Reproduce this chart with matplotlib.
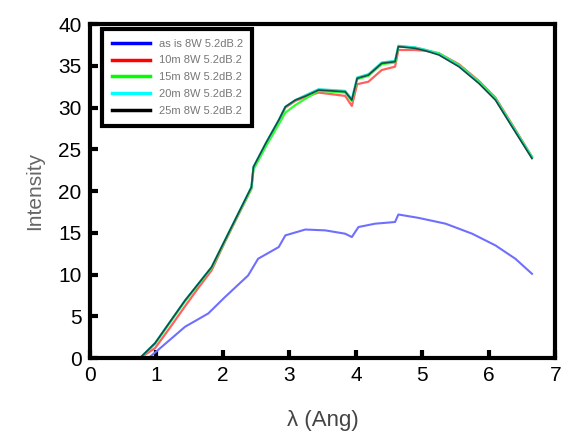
import matplotlib.pyplot as plt

plt.rcParams['font.family'] = ['Liberation Sans', 'DejaVu Sans']

# wavelength (Angstrom) and intensity
x_main = [0.45, 0.75, 0.98, 1.20, 1.43, 1.63, 1.83, 2.03, 2.23, 2.43, 2.46, 2.65, 2.84, 2.94,
          3.09, 3.25, 3.44, 3.64, 3.84, 3.94, 4.02, 4.19, 4.39, 4.59, 4.64, 4.89, 5.05,
          5.25, 5.55, 5.85, 6.10, 6.35, 6.65]
y_black = [0.0, 0.0, 1.8, 4.3, 6.9, 8.9, 10.9, 14.1, 17.3, 20.5, 22.9, 25.8, 28.5, 30.1,
           30.9, 31.4, 32.1, 32.0, 31.9, 30.9, 33.5, 33.9, 35.3, 35.5, 37.3, 37.1, 36.8,
           36.3, 34.9, 32.9, 30.9, 27.7, 23.9]
y_cyan = [0.0, 0.0, 1.8, 4.3, 6.9, 8.9, 10.9, 14.1, 17.3, 20.5, 22.9, 25.8, 28.5, 30.1,
          30.9, 31.5, 32.2, 32.1, 32.0, 31.0, 33.6, 34.0, 35.4, 35.6, 37.4, 37.2, 36.9,
          36.4, 35.0, 33.0, 31.0, 27.8, 24.0]
y_green = [0.0, 0.0, 1.7, 4.2, 6.8, 8.8, 10.8, 14.0, 17.2, 20.3, 22.6, 25.4, 28.0, 29.4,
           30.3, 31.1, 32.0, 31.9, 31.8, 30.8, 33.4, 33.8, 35.2, 35.4, 37.3, 37.2, 36.9,
           36.5, 35.1, 33.1, 31.1, 27.9, 24.1]
y_red = [0.0, 0.0, 1.2, 3.6, 6.2, 8.4, 10.5, 13.9, 17.1, 20.3, 22.7, 25.6, 28.3, 30.0,
         30.8, 31.3, 31.8, 31.6, 31.4, 30.2, 32.8, 33.1, 34.5, 34.9, 36.9, 36.9, 36.8,
         36.5, 35.2, 33.2, 31.2, 28.0, 24.1]

x_blue = [0.88, 1.08, 1.43, 1.78, 2.03, 2.38, 2.53, 2.84, 2.94, 3.24, 3.54, 3.84, 3.94,
          4.04, 4.29, 4.59, 4.64, 4.94, 5.35, 5.75, 6.10, 6.40, 6.65]
y_blue = [0.0, 1.35, 3.75, 5.35, 7.3, 9.9, 11.9, 13.3, 14.7, 15.4, 15.3, 14.9, 14.5,
          15.7, 16.1, 16.3, 17.2, 16.8, 16.1, 14.9, 13.5, 11.9, 10.1]

labels = ['as is 8W 5.2dB.2', '10m 8W 5.2dB.2', '15m 8W 5.2dB.2',
          '20m 8W 5.2dB.2', '25m 8W 5.2dB.2']

fig = plt.figure(figsize=(5.62, 4.46), dpi=100)
ax = fig.add_axes([0.160, 0.197, 0.828, 0.749])

ax.plot(x_blue, y_blue, color='#6f6fff', lw=1.5)
ax.plot(x_main, y_red, color='#ff6060', lw=1.6)
ax.plot(x_main, y_green, color='#30ff30', lw=1.6)
ax.plot(x_main, y_cyan, color='#20e0d0', lw=1.6)
ax.plot(x_main, y_black, color='#1a4a40', lw=1.2)

ax.set_xlim(0, 7)
ax.set_ylim(0, 40)
ax.set_xticks(range(0, 8))
ax.set_yticks(range(0, 41, 5))
for s in ax.spines.values():
    s.set_linewidth(3)
ax.tick_params(direction='in', length=6, width=3, labelsize=15, pad=6)
ax.set_xlabel('λ (Ang)', fontsize=16, color='#444444', labelpad=18)
ax.set_ylabel('Intensity', fontsize=15, color='#666666', labelpad=10)

handles = [plt.Line2D([], [], color=c, lw=2.5) for c in
           ['#0000ff', '#ff0000', '#00ff00', '#00ffff', '#000000']]
leg = ax.legend(handles, labels, loc='upper left', bbox_to_anchor=(0.027, 0.985),
                fontsize=8, frameon=True, fancybox=False, framealpha=1,
                handlelength=3.4, labelspacing=0.62, borderpad=0.85,
                handletextpad=0.8, borderaxespad=0)
leg.get_frame().set_edgecolor('black')
leg.get_frame().set_linewidth(3)
for t in leg.get_texts():
    t.set_color('#777777')

fig.savefig('out.png', dpi=100)
